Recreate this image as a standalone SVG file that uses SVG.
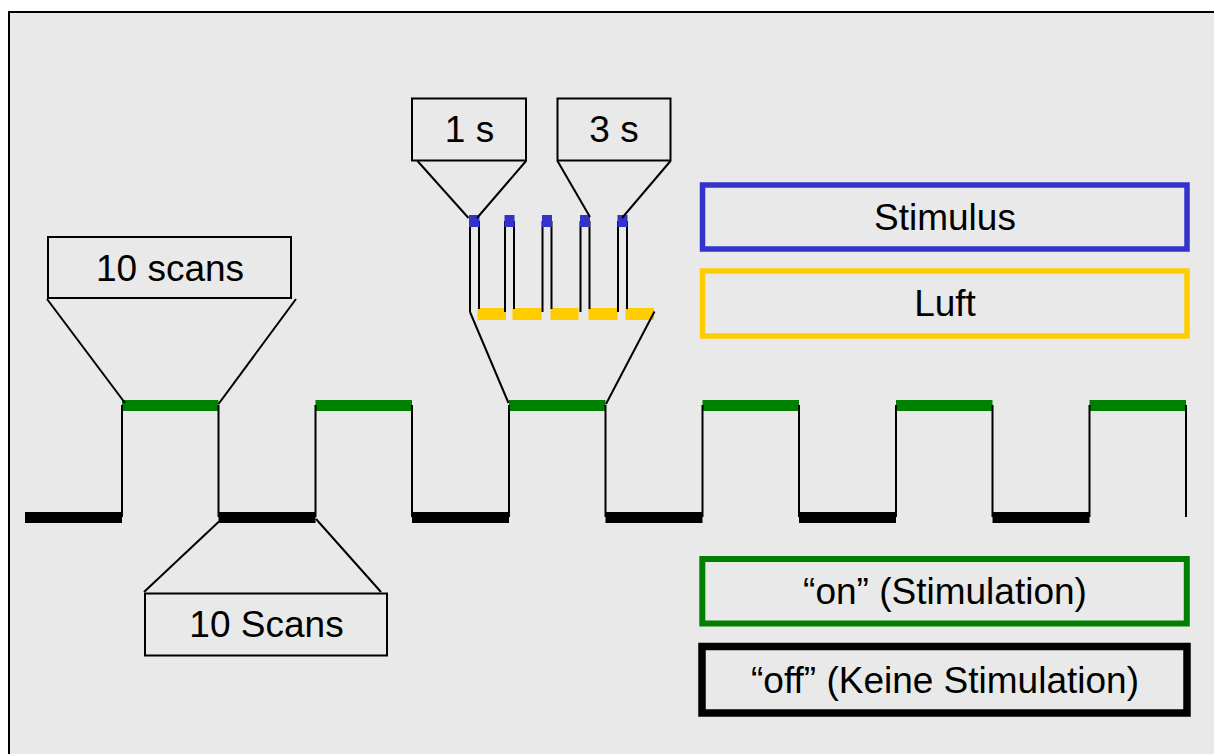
<svg xmlns="http://www.w3.org/2000/svg" width="1214" height="754" viewBox="0 0 1214 754">
  <style>
    text { font-family: "Liberation Sans", Arial, sans-serif; font-size: 37px; fill: #000; text-anchor: middle; }
    .box { fill: none; stroke: #000; stroke-width: 2; }
    .edge { stroke: #000; stroke-width: 2; fill: none; }
    .thin { stroke: #000; stroke-width: 2; fill: none; }
    .off { stroke: #000; stroke-width: 11; }
    .on { stroke: #008000; stroke-width: 11; }
    .air { fill: #FFCC00; }
    .stim { fill: #3333CC; }
  </style>

  <!-- canvas and frame -->
  <rect x="0" y="0" width="1214" height="754" fill="#FFFFFF"/>
  <rect id="frame" x="9" y="12" width="1220" height="760" fill="#E9E9E9" stroke="#000" stroke-width="2"/>

  <!-- block design: off (black) / on (green) square wave -->
  <g id="block-signal">
    <g>
      <line class="off" x1="25" y1="517.5" x2="122" y2="517.5"/>
      <line class="off" x1="218.5" y1="517.5" x2="315.5" y2="517.5"/>
      <line class="off" x1="412" y1="517.5" x2="509" y2="517.5"/>
      <line class="off" x1="605.5" y1="517.5" x2="702.5" y2="517.5"/>
      <line class="off" x1="799" y1="517.5" x2="896" y2="517.5"/>
      <line class="off" x1="992.5" y1="517.5" x2="1089.5" y2="517.5"/>
    </g>
    <g>
      <line class="on" x1="122" y1="405.5" x2="218.5" y2="405.5"/>
      <line class="on" x1="315.5" y1="405.5" x2="412" y2="405.5"/>
      <line class="on" x1="509" y1="405.5" x2="605.5" y2="405.5"/>
      <line class="on" x1="702.5" y1="405.5" x2="799" y2="405.5"/>
      <line class="on" x1="896" y1="405.5" x2="992.5" y2="405.5"/>
      <line class="on" x1="1089.5" y1="405.5" x2="1186" y2="405.5"/>
    </g>
    <path class="thin" d="M122 405V517 M218.5 405V517 M315.5 405V517 M412 405V517 M509 405V517 M605.5 405V517 M702.5 405V517 M799 405V517 M896 405V517 M992.5 405V517 M1089.5 405V517 M1186 405V517"/>
  </g>

  <!-- stimulus / air pulse train within one on-block -->
  <g id="pulse-train">
    <rect class="air" x="477.5" y="308" width="28.5" height="12"/>
    <rect class="air" x="512.5" y="308" width="29" height="12"/>
    <rect class="air" x="550.5" y="308" width="28" height="12"/>
    <rect class="air" x="588.5" y="308" width="29" height="12"/>
    <rect class="air" x="625.5" y="308" width="28.5" height="12"/>
    <path class="thin" d="M470 221V312 M479 221V309 M505 221V312 M514 221V309 M542.5 221V312 M551.5 221V309 M580.5 221V312 M589.5 221V309 M618 221V312 M627 221V309"/>
    <rect class="stim" x="469" y="215" width="10.5" height="12"/>
    <rect class="stim" x="504.5" y="215" width="10" height="12"/>
    <rect class="stim" x="542" y="215" width="10" height="12"/>
    <rect class="stim" x="580" y="215" width="10" height="12"/>
    <rect class="stim" x="617.5" y="215" width="10" height="12"/>
  </g>

  <!-- callout labels -->
  <g id="label-10-scans-on">
    <rect class="box" x="48" y="237" width="243" height="61"/>
    <text x="170" y="281">10 scans</text>
  </g>
  <g id="label-10-scans-off">
    <rect class="box" x="145" y="593.5" width="242" height="62"/>
    <text x="266.5" y="636.5">10 Scans</text>
  </g>
  <g id="label-1s">
    <rect class="box" x="412" y="98.5" width="114" height="62"/>
    <text x="469.5" y="142">1 s</text>
  </g>
  <g id="label-3s">
    <rect class="box" x="557.5" y="98.5" width="113" height="62"/>
    <text x="614" y="142">3 s</text>
  </g>

  <!-- funnel connectors from labels to signal segments -->
  <g id="connectors">
    <line class="edge" x1="47" y1="299" x2="125" y2="403"/>
    <line class="edge" x1="296" y1="299" x2="218.5" y2="404"/>
    <line class="edge" x1="144" y1="592" x2="219" y2="521.5"/>
    <line class="edge" x1="381" y1="592" x2="316" y2="519"/>
    <line class="edge" x1="417.5" y1="161" x2="468.5" y2="218"/>
    <line class="edge" x1="526" y1="161" x2="477" y2="218"/>
    <line class="edge" x1="557.5" y1="161" x2="590" y2="217"/>
    <line class="edge" x1="670.5" y1="161" x2="622" y2="218"/>
    <line class="edge" x1="470" y1="312" x2="508.5" y2="403"/>
    <line class="edge" x1="654.5" y1="311.5" x2="606" y2="404"/>
  </g>

  <!-- legend -->
  <g id="legend-stimulus">
    <rect x="702.5" y="185" width="484.5" height="64" fill="none" stroke="#3333CC" stroke-width="5.5"/>
    <text x="945" y="230">Stimulus</text>
  </g>
  <g id="legend-luft">
    <rect x="702.5" y="271" width="484.5" height="65" fill="none" stroke="#FFCC00" stroke-width="5.5"/>
    <text x="945" y="315.5">Luft</text>
  </g>
  <g id="legend-on">
    <rect x="702.3" y="559" width="484.5" height="64.5" fill="none" stroke="#008000" stroke-width="6"/>
    <text x="945" y="604">“on” (Stimulation)</text>
  </g>
  <g id="legend-off">
    <rect x="702" y="646.5" width="485" height="66.5" fill="none" stroke="#000" stroke-width="7.5"/>
    <text x="945" y="693">“off” (Keine Stimulation)</text>
  </g>
</svg>
